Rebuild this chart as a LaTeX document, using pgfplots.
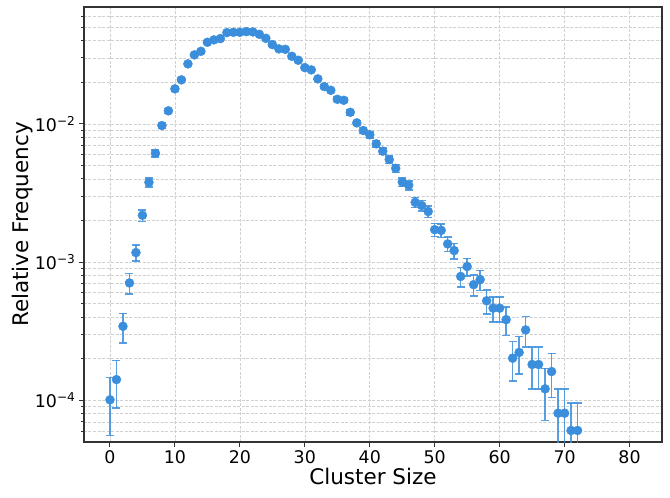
\documentclass[border=0pt]{standalone}
\usepackage{fontspec}
\setmainfont{DejaVu Sans}
\usepackage{pgfplots}
\pgfplotsset{compat=1.18}
\usepackage{pgfplotstable}

\definecolor{ptblue}{RGB}{58,142,219}
\definecolor{axgray}{RGB}{51,51,51}
\definecolor{gridgray}{RGB}{208,208,208}

% relative frequency of each cluster size, with its statistical error
\pgfplotstableread{
size freq err
0 1.010e-4 4.52e-5
1 1.414e-4 5.34e-5
2 3.434e-4 8.33e-5
3 7.071e-4 1.195e-4
4 1.1717e-3 1.539e-4
5 2.1818e-3 2.099e-4
6 3.7778e-3 2.763e-4
7 6.1212e-3 3.517e-4
8 9.717e-3 4.431e-4
9 1.2424e-2 5.010e-4
10 1.7919e-2 6.017e-4
11 2.0808e-2 6.484e-4
12 2.7152e-2 7.406e-4
13 3.1535e-2 7.982e-4
14 3.3475e-2 8.223e-4
15 3.8909e-2 8.866e-4
16 4.0485e-2 9.044e-4
17 4.1374e-2 9.142e-4
18 4.5697e-2 9.608e-4
19 4.5939e-2 9.634e-4
20 4.5939e-2 9.634e-4
21 4.6465e-2 9.689e-4
22 4.6202e-2 9.661e-4
23 4.4424e-2 9.473e-4
24 4.1556e-2 9.162e-4
25 3.7434e-2 8.696e-4
26 3.4848e-2 8.391e-4
27 3.4606e-2 8.361e-4
28 3.0808e-2 7.889e-4
29 2.8828e-2 7.632e-4
30 2.5515e-2 7.180e-4
31 2.4566e-2 7.045e-4
32 2.1152e-2 6.537e-4
33 1.8606e-2 6.131e-4
34 1.7495e-2 5.945e-4
35 1.5051e-2 5.514e-4
36 1.4808e-2 5.469e-4
37 1.2121e-2 4.948e-4
38 1.0162e-2 4.531e-4
39 8.949e-3 4.252e-4
40 8.343e-3 4.105e-4
41 7.172e-3 3.806e-4
42 6.343e-3 3.580e-4
43 5.515e-3 3.338e-4
44 4.768e-3 3.103e-4
45 3.798e-3 2.770e-4
46 3.596e-3 2.695e-4
47 2.707e-3 2.339e-4
48 2.566e-3 2.277e-4
49 2.323e-3 2.166e-4
50 1.717e-3 1.863e-4
51 1.697e-3 1.852e-4
52 1.354e-3 1.654e-4
53 1.212e-3 1.565e-4
54 7.879e-4 1.262e-4
55 9.293e-4 1.370e-4
56 6.869e-4 1.178e-4
57 7.475e-4 1.229e-4
58 5.253e-4 1.030e-4
59 4.646e-4 9.69e-5
60 4.646e-4 9.69e-5
61 3.838e-4 8.81e-5
62 2.020e-4 6.39e-5
63 2.222e-4 6.70e-5
64 3.232e-4 8.08e-5
65 1.818e-4 6.06e-5
66 1.818e-4 6.06e-5
67 1.212e-4 4.95e-5
68 1.616e-4 5.71e-5
69 8.08e-5 4.04e-5
70 8.08e-5 4.04e-5
71 6.06e-5 3.50e-5
72 6.06e-5 3.50e-5
}\clusterdata

\begin{document}
\begin{tikzpicture}
\begin{axis}[
  name=ax,
  scale only axis,
  width=578pt, height=435pt,
  ymode=log,
  xmin=-4, xmax=85,
  ymin=5e-5, ymax=0.07,
  xtick={0,10,...,80},
  ytick={1e-4,1e-3,1e-2},
  yticklabels={10\textsuperscript{−4},10\textsuperscript{−3},10\textsuperscript{−2}},
  minor ytick={6e-5,7e-5,8e-5,9e-5,2e-4,3e-4,4e-4,5e-4,6e-4,7e-4,8e-4,9e-4,
               2e-3,3e-3,4e-3,5e-3,6e-3,7e-3,8e-3,9e-3,2e-2,3e-2,4e-2,5e-2,6e-2},
  /pgf/number format/assume math mode=true,
  tick pos=left,
  tick align=outside,
  major tick length=5pt,
  minor tick length=2.8pt,
  every tick/.style={axgray, line width=1pt},
  axis line style={axgray, line width=1.2pt},
  xmajorgrids, ymajorgrids, yminorgrids,
  major grid style={gridgray, dash pattern=on 3pt off 1.5pt, line width=0.6pt},
  minor grid style={gridgray, dash pattern=on 3pt off 1.5pt, line width=0.6pt},
  tick label style={font=\fontsize{17.4}{20}\selectfont, text=black},
  label style={font=\fontsize{21.5}{25}\selectfont},
  xlabel={Cluster Size},
  ylabel={Relative Frequency},
  xlabel style={yshift=2pt},
  ylabel style={yshift=-5pt},
]
\addplot[only marks, mark=*, color=ptblue,
  mark size=4.5pt, mark options={fill=ptblue, draw=ptblue},
  error bars/.cd, y dir=both, y explicit,
  error bar style={line width=1.5pt, ptblue, opacity=0.85},
  error mark options={rotate=90, mark size=4pt, line width=1.5pt, ptblue, opacity=0.85}]
  table[x=size, y=freq, y error=err] {\clusterdata};
\end{axis}
\pgfresetboundingbox
\useasboundingbox ([xshift=-84pt, yshift=-55pt]ax.south west) rectangle ([xshift=8pt, yshift=7pt]ax.north east);
\end{tikzpicture}
\end{document}
